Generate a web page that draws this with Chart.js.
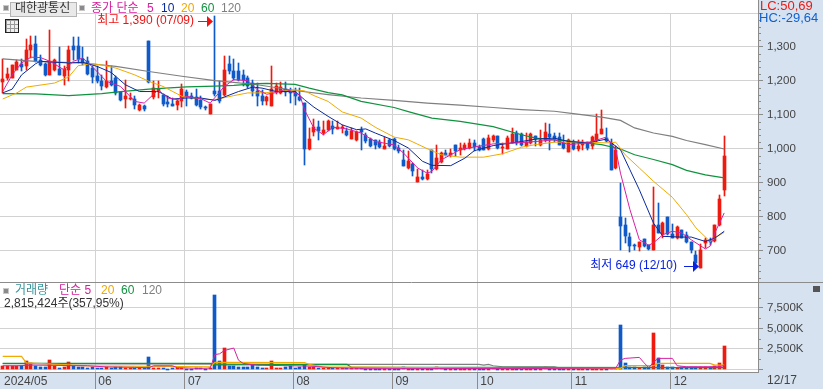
<!DOCTYPE html>
<html lang="ko">
<head>
<meta charset="utf-8">
<title>대한광통신</title>
<script src="https://cdn.jsdelivr.net/npm/chart.js@4/dist/chart.umd.js"></script>
<style>
  html, body { margin: 0; padding: 0; background: #fff; }
  #wrap { position: relative; width: 823px; height: 389px; overflow: hidden; font-family: "Liberation Sans", "Noto Sans CJK KR", sans-serif; }
  #wrap canvas { position: absolute; left: 0; top: 0; }
  .t { position: absolute; font-size: 12px; line-height: 14px; white-space: nowrap; }
  .sq { position: absolute; width: 4px; height: 4px; background: #8a8a8a; border: 1px solid #c8c8c8; }
  .btn { position: absolute; left: 10px; top: 2px; width: 65px; height: 13px; background: #e9e9e9; border: 1px solid #b4b4b4; }
  .mag { color: #d4209f; } .navy { color: #0a2a9c; } .org { color: #eea800; } .grn { color: #10933f; } .gry { color: #808080; }
  #icon { position: absolute; left: 5px; top: 19px; width: 12px; height: 12px; border: 1px solid #222; background-color: #eee;
    background-image: linear-gradient(#999 1px, transparent 1px), linear-gradient(90deg, #999 1px, transparent 1px); background-size: 4px 4px; }
  #closer { position: absolute; left: 813px; top: 286px; width: 7px; height: 6px; background: #555; }
</style>
</head>
<body>
<div id="wrap">
  <canvas id="myChart" width="823" height="389"></canvas>
  <div class="sq" style="left:3px;top:5px"></div>
  <div class="btn"></div>
  <div class="t" style="left:15px;top:1px;color:#333">대한광통신</div>
  <div class="sq" style="left:79px;top:5px"></div>
  <div class="t mag" style="left:91px;top:1px">종가 단순</div>
  <div class="t mag" style="left:147px;top:1px">5</div>
  <div class="t navy" style="left:161px;top:1px">10</div>
  <div class="t org" style="left:181px;top:1px">20</div>
  <div class="t grn" style="left:201px;top:1px">60</div>
  <div class="t gry" style="left:221px;top:1px">120</div>
  <div id="icon"></div>
  <div class="t" style="left:760px;top:-1px;color:#ee1a0f;font-size:13px">LC:50,69</div>
  <div class="t" style="left:759px;top:11px;color:#1060d0;font-size:13px">HC:-29,64</div>
  <div class="sq" style="left:3px;top:288px"></div>
  <div class="t" style="left:15px;top:283px;color:#35959a">거래량</div>
  <div class="t mag" style="left:59px;top:283px">단순 5</div>
  <div class="t org" style="left:101px;top:283px">20</div>
  <div class="t grn" style="left:121px;top:283px">60</div>
  <div class="t gry" style="left:142px;top:283px">120</div>
  <div class="t" style="left:4px;top:296px;color:#333">2,815,424주(357,95%)</div>
  <div id="closer"></div>
</div>
<script>
window.onload = Main;

// 일봉 (2024/04/30 ~ 12/17)
const open_prices = [
  1198,1209,1209,1233,1250,1243,1290,1310,1263,1251,
  1219,1233,1235,1215,1233,1302,1302,1265,1258,1238,
  1216,1201,1182,1201,1209,1167,1148,1147,1148,1114,
  1127,1318,1152,1171,1158,1137,1133,1128,1140,1169,
  1155,1152,1145,1123,1104,1172,1170,1160,1251,1228,
  1230,1218,1209,1194,1172,
  1157,1140,1125,1169,1164,1176,1172,1166,1153,1135,
  1000,1049,1066,1047,1055,1068,1060,1062,1054,1030,
  1025,1055,1042,1029,1025,1022,1001,1027,1029,1003,
  968,943,957,902,918,911,998,942,961,988,
  983,1012,998,1000,1003,1017,1006,1029,1000,1025,
  1039,1002,1001,1019,1047,
  1045,1008,1018,1037,1011,1025,1045,1039,1035,1018,
  990,1022,1000,1011,1021,1008,1025,1045,1032,1018,
  943,800,777,740,719,711,735,717,704,776,
  751,800,751,739,761,748,726,689,650,724,
  731,729,775,878
];
const high_prices = [
  1265,1238,1248,1263,1265,1324,1333,1333,1277,1253,
  1351,1265,1299,1243,1302,1328,1329,1300,1272,1243,
  1243,1218,1260,1243,1214,1169,1204,1165,1155,1133,
  1130,1318,1199,1199,1162,1155,1150,1145,1191,1174,
  1165,1176,1155,1125,1133,1390,1199,1274,1274,1265,
  1253,1231,1214,1204,1194,
  1174,1157,1243,1194,1197,1197,1179,1179,1179,1135,
  1061,1088,1081,1081,1084,1081,1081,1071,1061,1061,
  1054,1066,1047,1032,1027,1025,1035,1029,1032,1012,
  998,993,959,942,937,937,998,1012,990,998,
  1000,1012,1017,1019,1029,1027,1012,1032,1040,1042,
  1039,1019,1037,1063,1052,
  1047,1047,1047,1037,1057,1076,1074,1047,1047,1042,
  1029,1027,1025,1025,1022,1037,1103,1116,1062,1029,
  1008,900,797,753,722,726,735,719,888,841,
  784,800,780,773,763,755,726,701,722,738,
  738,777,866,1039
];
const low_prices = [
  1165,1204,1208,1231,1228,1231,1267,1255,1243,1214,
  1218,1228,1218,1189,1199,1263,1253,1248,1218,1194,
  1194,1174,1179,1186,1160,1140,1120,1145,1118,1111,
  1111,1194,1147,1150,1127,1123,1125,1116,1123,1127,
  1147,1127,1118,1114,1104,1155,1135,1155,1221,1204,
  1199,1184,1179,1155,1127,
  1130,1130,1125,1162,1162,1157,1135,1130,1140,952,
  998,1037,1025,1042,1052,1045,1059,1047,1037,1029,
  1023,998,1019,1006,1000,1003,1000,1006,998,988,
  949,942,921,902,910,910,929,939,959,978,
  976,980,983,998,1000,993,993,998,998,1022,
  1000,986,1000,1017,1012,
  1008,1006,1015,1008,1008,1022,998,1020,1011,1001,
  990,998,993,996,996,1000,1022,1043,1020,939,
  942,704,724,698,702,699,711,702,702,753,
  738,748,737,735,737,724,694,650,649,709,
  719,726,773,861
];
const close_prices = [
  1207,1221,1248,1255,1240,1292,1307,1258,1248,1217,
  1260,1261,1219,1236,1292,1292,1265,1253,1221,1212,
  1199,1184,1201,1189,1165,1143,1157,1150,1130,1128,
  1118,1196,1179,1176,1133,1133,1127,1142,1177,1155,
  1150,1130,1123,1120,1133,1163,1140,1233,1228,1209,
  1204,1204,1186,1172,1155,
  1140,1153,1177,1186,1182,1169,1166,1155,1143,1001,
  1030,1064,1054,1057,1081,1059,1064,1064,1040,1052,
  1049,1049,1024,1010,1012,1006,1010,1010,1000,995,
  951,965,934,917,913,927,942,973,988,983,
  988,993,1003,1012,1017,1005,998,998,1032,1039,
  1003,1006,1032,1044,1019,
  1011,1022,1045,1029,1027,1049,1035,1029,1013,1003,
  1025,1001,1010,1022,1003,1035,1045,1060,1023,939,
  998,773,745,716,714,726,714,706,775,753,
  782,750,739,771,739,726,704,665,704,733,
  726,775,854,978
];
// 거래량 (천주)
const volumes = [
  400,400,400,360,360,1000,720,440,280,280,
  1120,400,200,280,880,440,320,320,200,280,
  200,200,320,120,240,240,160,200,120,120,
  160,1480,200,200,200,40,160,120,120,80,
  80,120,120,80,200,9060,1010,2560,440,440,
  320,320,280,520,280,
  200,200,1000,200,200,280,440,120,240,520,
  320,320,200,200,120,120,120,120,120,120,
  120,120,80,80,80,80,80,80,80,80,
  300,100,90,80,80,80,80,280,110,90,
  80,80,80,80,80,80,80,80,80,110,
  90,80,80,70,70,
  90,70,80,60,90,320,90,70,90,70,
  100,80,70,90,80,70,100,90,70,110,
  130,5400,770,320,320,200,280,280,4430,1340,
  530,320,320,200,320,280,280,280,320,320,
  280,440,770,2815
];

// 가격 이동평균선 (거래일 번호, 값)
const ma5_days = [0,2,4,6,8,10,13,15,17,20,22,25,28,30,33,35,37,39,42,44,47,49,52,54,56,58,60,63,64,66,68,70,73,76,79,83,85,88,90,91,93,97,100,104,110,113,117,120,124,128,130,131,133,135,137,138,140,142,144,146,149,150,151,153];
const ma5_vals = [1169,1218,1253,1270,1269,1258,1233,1258,1268,1228,1199,1184,1140,1135,1174,1150,1145,1155,1148,1135,1184,1204,1201,1174,1161,1166,1176,1159,1115,1061,1042,1064,1059,1047,1022,1012,988,944,929,934,968,998,1006,1015,1019,1022,1027,1013,1018,1035,998,929,822,733,717,724,748,758,753,733,706,714,753,812];
const ma10_days = [0,2,4,7,8,10,14,17,20,23,26,29,33,36,39,42,45,47,50,53,55,58,62,64,66,69,72,75,77,79,83,86,89,91,95,98,100,104,110,113,117,120,124,128,131,133,135,138,140,144,146,149,151,153];
const ma10_vals = [1165,1176,1218,1251,1258,1256,1253,1255,1243,1225,1189,1169,1169,1147,1150,1150,1143,1153,1169,1182,1179,1169,1169,1145,1123,1096,1071,1057,1059,1047,1025,1003,964,952,951,973,995,1010,1022,1029,1032,1022,1018,1029,998,939,880,782,743,741,741,728,738,758];
const ma20_days = [0,3,5,11,14,16,19,21,24,28,31,34,38,42,45,49,52,54,56,62,64,66,69,72,76,79,83,86,90,93,97,102,106,110,113,117,120,124,128,130,132,135,138,142,145,147,150,151,153];
const ma20_vals = [1147,1165,1182,1194,1212,1245,1251,1247,1238,1218,1199,1184,1155,1147,1145,1157,1165,1165,1166,1174,1171,1157,1140,1109,1091,1064,1035,1027,1001,983,976,976,986,1005,1013,1020,1020,1020,1018,1020,983,944,905,858,807,768,728,738,755];
const ma60_days = [0,7,14,21,25,31,39,45,49,54,56,62,65,69,72,76,83,86,91,97,104,110,113,121,127,131,134,138,142,145,149,153];
const ma60_vals = [1163,1162,1157,1163,1169,1176,1183,1185,1187,1192,1193,1190,1179,1166,1159,1140,1122,1110,1091,1081,1066,1042,1032,1022,1013,1000,983,969,954,937,924,915];
const ma120_days = [0,7,17,24,31,38,45,49,54,62,69,76,83,90,97,104,110,117,121,127,131,134,138,142,145,149,153];
const ma120_vals = [1265,1258,1253,1243,1228,1214,1201,1196,1189,1172,1160,1150,1143,1135,1129,1122,1116,1111,1104,1094,1084,1062,1047,1037,1025,1013,1000];

// 거래량 이동평균선
const vol_ma5_days = [0,3,6,10,14,18,22,28,31,32,36,37,42,44,45,46,47,49,50,51,54,55,65,70,76,110,130,131,132,135,136,137,138,139,142,143,145,152,153];
const vol_ma5_vals = [440,440,520,500,460,440,300,240,200,440,440,200,120,160,1800,1900,2300,2600,1120,720,500,500,400,200,120,100,150,1140,1340,1460,800,200,900,1340,1340,440,320,320,480];
const vol_ma20_days = [0,4,5,18,44,45,64,65,68,76,110,131,132,138,139,150,151,153];
const vol_ma20_vals = [1580,1580,800,420,320,850,840,600,280,280,120,120,450,450,730,730,530,530];
const vol_ma60_days = [0,44,45,73,74,106,153];
const vol_ma60_vals = [730,730,560,600,240,240,220];
const vol_ma120_days = [0,73,101,102,103,104,106,117,118,130];
const vol_ma120_vals = [700,600,600,520,600,440,320,320,200,200];

// 축 눈금
const month_days = [0,20,39,62,83,101,121,142];
const month_labels = ["2024/05","06","07","08","09","10","11","12"];
const price_ticks = [700,800,900,1000,1100,1200,1300,1400];
const volume_ticks = [0,2500,5000,7500];
const last_date = "12/17";
const high_label_date = "07/09";
const low_label_date = "12/10";

const red = "#ee1a0f";
const blue = "#0f5ac8";
const days = close_prices.map((v, i) => i);
const candle_colors = close_prices.map((v, i) => v >= open_prices[i] ? red : blue);
const font_family = '"Liberation Sans", "Noto Sans CJK KR", sans-serif';

function pairs(x_list, y_list) {
    return x_list.map((x, i) => ({ x: x, y: y_list[i] }));
}

function lineSet(x_list, y_list, color, axis, order, width) {
    return {
        type: "line",
        data: pairs(x_list, y_list),
        yAxisID: axis,
        borderColor: color,
        borderWidth: width || 1,
        pointRadius: 0,
        tension: 0,
        order: order
    };
}

function barSet(values, axis, thickness, order) {
    return {
        type: "bar",
        data: values,
        yAxisID: axis,
        backgroundColor: candle_colors,
        barThickness: thickness,
        grouped: false,
        order: order
    };
}

function arrow(ctx, tip_x, y, color) {
    ctx.strokeStyle = color;
    ctx.fillStyle = color;
    ctx.lineWidth = 1;
    ctx.beginPath();
    ctx.moveTo(tip_x - 15, y + 0.5);
    ctx.lineTo(tip_x - 5, y + 0.5);
    ctx.stroke();
    ctx.beginPath();
    ctx.moveTo(tip_x - 6, y - 5);
    ctx.lineTo(tip_x, y + 0.5);
    ctx.lineTo(tip_x - 6, y + 6);
    ctx.closePath();
    ctx.fill();
}

// 바탕색 (오른쪽 축, 아래 날짜 띠)
const panelPlugin = {
    id: "panel",
    beforeDraw(chart) {
        const ctx = chart.ctx;
        const area = chart.chartArea;
        ctx.save();
        ctx.fillStyle = "#d6e2f0";
        ctx.fillRect(area.right, 0, chart.width - area.right, chart.height);
        ctx.fillRect(0, area.bottom, chart.width, chart.height - area.bottom);
        ctx.restore();
    }
};

// 봉을 픽셀에 맞춘다
const snapPlugin = {
    id: "snap",
    afterDatasetsUpdate(chart) {
        chart.getSortedVisibleDatasetMetas().forEach(meta => {
            if (meta.type !== "bar") return;
            meta.data.forEach(el => {
                el.x = Math.floor(el.x) + 0.5;
                el.y = Math.round(el.y);
                el.base = Math.round(el.base);
                if (el.y === el.base) el.base += 1;
            });
        });
    }
};

// 잔눈금, 구분선, 최고/최저 표시
const overlayPlugin = {
    id: "overlay",
    afterDraw(chart) {
        const ctx = chart.ctx;
        const area = chart.chartArea;
        const x = chart.scales.x, y = chart.scales.y, yVol = chart.scales.yVol;
        ctx.save();
        ctx.strokeStyle = "#8c8c8c";
        ctx.lineWidth = 1;
        ctx.beginPath();
        ctx.moveTo(area.right + 0.5, 0);
        ctx.lineTo(area.right + 0.5, area.bottom);
        ctx.moveTo(0, Math.round(yVol.top) + 0.5);
        ctx.lineTo(chart.width, Math.round(yVol.top) + 0.5);
        for (let v = y.min - y.min % 20 + 20; v < 1400; v += 20) {
            if (v % 100 === 0) continue;
            const py = Math.round(y.getPixelForValue(v)) + 0.5;
            ctx.moveTo(area.right, py);
            ctx.lineTo(area.right + 3, py);
        }
        for (let v = 1250; v < yVol.max; v += 2500) {
            const py = Math.round(yVol.getPixelForValue(v)) + 0.5;
            ctx.moveTo(area.right, py);
            ctx.lineTo(area.right + 3, py);
        }
        ctx.stroke();

        ctx.font = "12px " + font_family;
        ctx.textBaseline = "middle";
        ctx.textAlign = "left";
        ctx.fillStyle = "#444";
        ctx.fillText(last_date, area.right + 9, area.bottom + 9);

        const high_value = Math.max(...high_prices);
        const low_value = Math.min(...low_prices);
        const high_x = Math.floor(x.getPixelForValue(high_prices.indexOf(high_value)));
        const low_x = Math.floor(x.getPixelForValue(low_prices.indexOf(low_value)));
        const high_y = Math.round(y.getPixelForValue(high_value)) + 5;
        const low_y = Math.round(y.getPixelForValue(low_value)) - 2;

        ctx.textAlign = "right";
        ctx.fillStyle = "#f01212";
        ctx.fillText("최고 " + high_value.toLocaleString("en-US") + " (" + high_label_date + ")", high_x - 20, high_y);
        arrow(ctx, high_x - 1, high_y, "#f01212");
        ctx.fillStyle = "#0a22e0";
        ctx.fillText("최저 " + low_value + " (" + low_label_date + ")", low_x - 23, low_y);
        arrow(ctx, low_x - 1, low_y, "#0a22e0");
        ctx.restore();
    }
};

function Main() {
    const ctx = document.getElementById("myChart");
    new Chart(ctx, {
        data: {
            labels: days,
            datasets: [
                lineSet(ma5_days, ma5_vals, "#d81fa3", "y", 0),
                lineSet(ma10_days, ma10_vals, "#0a2a9c", "y", 1),
                lineSet(ma20_days, ma20_vals, "#f0aa00", "y", 2),
                lineSet(ma60_days, ma60_vals, "#10933f", "y", 3, 1.2),
                lineSet(ma120_days, ma120_vals, "#7f7f7f", "y", 4, 1.2),
                barSet(close_prices.map((v, i) => [open_prices[i], v]), "y", 3, 5),
                barSet(close_prices.map((v, i) => [low_prices[i], high_prices[i]]), "y", 1, 6),
                lineSet(vol_ma5_days, vol_ma5_vals, "#d81fa3", "yVol", 0),
                lineSet(vol_ma20_days, vol_ma20_vals, "#f0aa00", "yVol", 1, 1.2),
                lineSet(vol_ma60_days, vol_ma60_vals, "#10933f", "yVol", 2, 1.2),
                lineSet(vol_ma120_days, vol_ma120_vals, "#7f7f7f", "yVol", 3, 1.2),
                barSet(volumes, "yVol", 3, 7)
            ]
        },
        options: {
            responsive: false,
            animation: false,
            events: [],
            layout: { autoPadding: false, padding: { top: 13 } },
            plugins: { legend: { display: false }, tooltip: { enabled: false } },
            scales: {
                x: {
                    type: "linear",
                    offset: false,
                    min: -0.5725,
                    max: 160.16,
                    afterBuildTicks: s => { s.ticks = month_days.map(d => ({ value: d - 0.36 })); },
                    afterFit: s => { s.height = 17; },
                    grid: {
                        offset: false,
                        color: c => c.index === 0 ? "rgba(0,0,0,0)" : "#d2d2d2",
                        tickColor: c => c.index === 0 ? "rgba(0,0,0,0)" : "#8c8c8c",
                        tickLength: 17
                    },
                    border: { display: true, color: "#8c8c8c" },
                    ticks: {
                        autoSkip: false,
                        maxRotation: 0,
                        align: "start",
                        labelOffset: 3,
                        padding: -15,
                        color: "#444",
                        font: { size: 12, family: font_family },
                        callback: (v, i) => month_labels[i]
                    }
                },
                y: {
                    position: "right",
                    stack: "panes",
                    stackWeight: 269,
                    min: 608.8,
                    max: 1400,
                    afterBuildTicks: s => { s.ticks = price_ticks.map(v => ({ value: v })); },
                    afterFit: s => { s.width = 65; },
                    grid: { color: "#d2d2d2", tickColor: "#8c8c8c", tickLength: 5 },
                    border: { display: false },
                    ticks: {
                        autoSkip: false,
                        padding: 4,
                        color: "#444",
                        font: { size: 11.5, family: font_family },
                        callback: v => v === 1400 ? "" : v.toLocaleString("en-US")
                    }
                },
                yVol: {
                    position: "right",
                    stack: "panes",
                    stackWeight: 90,
                    min: -320,
                    max: 10650,
                    afterBuildTicks: s => { s.ticks = volume_ticks.map(v => ({ value: v })); },
                    afterFit: s => { s.width = 65; },
                    grid: { color: "#d2d2d2", tickColor: "#8c8c8c", tickLength: 5 },
                    border: { display: false },
                    ticks: {
                        autoSkip: false,
                        padding: 4,
                        color: "#444",
                        font: { size: 11.5, family: font_family },
                        callback: v => v === 0 ? "" : v.toLocaleString("en-US") + "K"
                    }
                }
            }
        },
        plugins: [panelPlugin, snapPlugin, overlayPlugin]
    });
}
</script>
</body>
</html>
